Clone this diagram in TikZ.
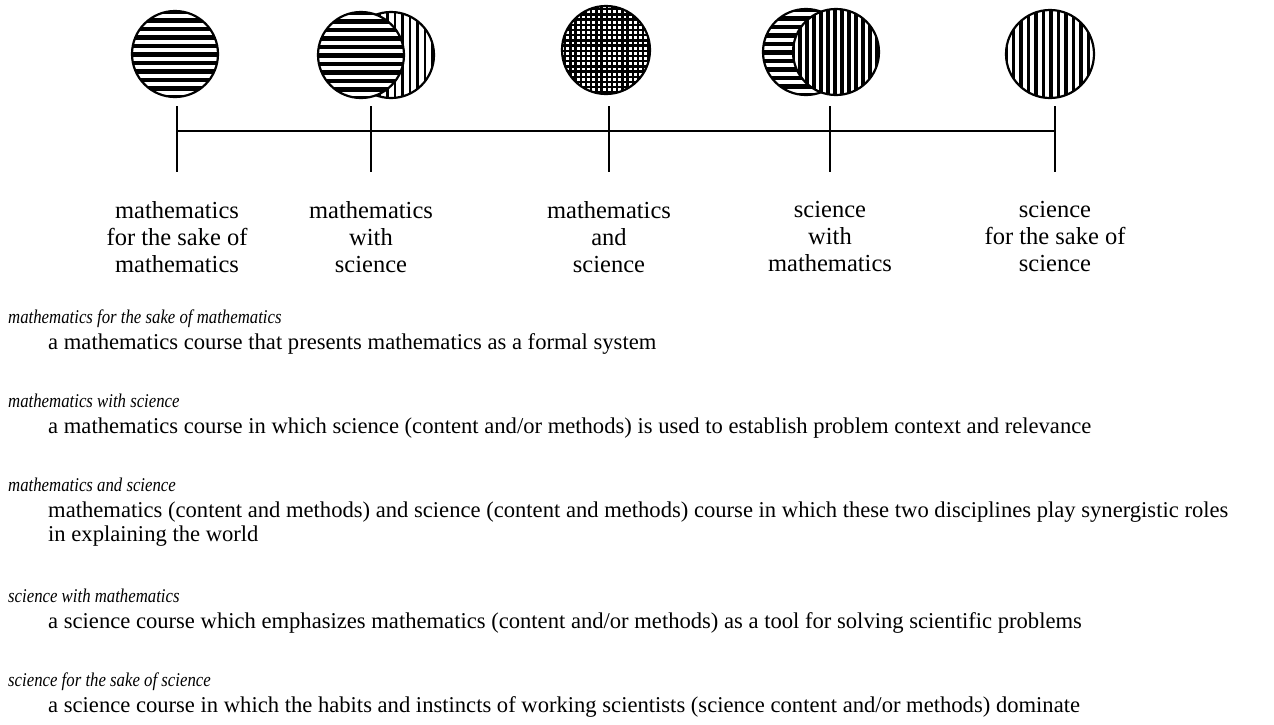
\documentclass[tikz,border=0pt]{standalone}
\usepackage{fontspec}
\setmainfont{Liberation Serif}
\newfontfamily\headfont{Liberation Serif}[FakeStretch=0.86]
\begin{document}
\begin{tikzpicture}[x=1pt,y=-1pt,
    rim/.style={line width=2.2pt},
    lbl/.style={anchor=north,align=center,inner sep=0pt,font=\fontsize{24.5}{27}\selectfont,execute at begin node=\strut},
    head/.style={anchor=base west,inner sep=0pt,font=\headfont\fontsize{19.5}{24}\selectfont\itshape},
    desc/.style={anchor=base west,inner sep=0pt,font=\fontsize{22.6}{24.5}\selectfont}]
    \useasboundingbox[fill=white] (0,0) rectangle (1274,724);
    %% Discs
    % mathematics
    \begin{scope}
        \clip (175,54) circle (43pt);
        \foreach \y in {12,20.5,...,100} \draw[line width=4.5pt] (128,\y) -- (222,\y);
    \end{scope}
    \draw[rim] (175,54) circle (43pt);
    % mathematics with science
    \begin{scope}
        \clip (391,55) circle (43pt);
        \foreach \x in {350,357.5,...,440} \draw[line width=2.6pt] (\x,8) -- (\x,102);
    \end{scope}
    \draw[rim] (391,55) circle (43pt);
    \fill[white] (361,55) circle (43pt);
    \begin{scope}
        \clip (361,55) circle (43pt);
        \foreach \y in {13,21.5,...,100} \draw[line width=4.5pt] (314,\y) -- (408,\y);
    \end{scope}
    \draw[rim] (361,55) circle (43pt);
    % mathematics and science
    \begin{scope}
        \clip (606,50) circle (44pt);
        \foreach \x in {560,565.2,...,655} \draw[line width=2.5pt] (\x,4) -- (\x,96);
        \foreach \y in {4,9.2,...,96} \draw[line width=2.5pt] (560,\y) -- (655,\y);
    \end{scope}
    \draw[rim] (606,50) circle (44pt);
    % science with mathematics
    \begin{scope}
        \clip (806,52) circle (43pt);
        \foreach \y in {10,18.5,...,98} \draw[line width=4.5pt] (760,\y) -- (852,\y);
    \end{scope}
    \draw[rim] (806,52) circle (43pt);
    \fill[white] (836,52) circle (43pt);
    \begin{scope}
        \clip (836,52) circle (43pt);
        \foreach \x in {793,800,...,882} \draw[line width=3.2pt] (\x,6) -- (\x,98);
    \end{scope}
    \draw[rim] (836,52) circle (43pt);
    % science
    \begin{scope}
        \clip (1050,54) circle (44pt);
        \foreach \x in {1006,1013.5,...,1096} \draw[line width=3.6pt] (\x,8) -- (\x,100);
    \end{scope}
    \draw[rim] (1050,54) circle (44pt);
    %% Scale
    \coordinate (t1) at (177,131);
    \coordinate (t2) at (371,131);
    \coordinate (t3) at (609,131);
    \coordinate (t4) at (830,131);
    \coordinate (t5) at (1055,131);
    \draw[line width=1.3pt] (t1) -- (t5);
    \foreach \t in {t1,t2,t3,t4,t5}
        \draw[line width=1.6pt] (\t) ++(0,-25) -- ++(0,66);
    %% Labels
    \node[lbl] (l1) at (177,201) {mathematics\\for the sake of\\mathematics};
    \node[lbl] (l2) at (371,201) {mathematics\\with\\science};
    \node[lbl] (l3) at (609,201) {mathematics\\and\\science};
    \node[lbl] (l4) at (830,201) {science\\with\\mathematics};
    \node[lbl] (l5) at (1055,201) {science\\for the sake of\\science};
    %% Definitions
    \node[head] (h1) at (8,323) {mathematics for the sake of mathematics};
    \node[desc] (d1) at (48,349) {a mathematics course that presents mathematics as a formal system};
    \node[head] (h2) at (8,407) {mathematics with science};
    \node[desc] (d2) at (48,433) {a mathematics course in which science (content and/or methods) is used to establish problem context and relevance};
    \node[head] (h3) at (8,491) {mathematics and science};
    \node[desc] (d3) at (48,517) {mathematics (content and methods) and science (content and methods) course in which these two disciplines play synergistic roles};
    \node[desc] (d3b) at (48,541) {in explaining the world};
    \node[head] (h4) at (8,602) {science with mathematics};
    \node[desc] (d4) at (48,628) {a science course which emphasizes mathematics (content and/or methods) as a tool for solving scientific problems};
    \node[head] (h5) at (8,686) {science for the sake of science};
    \node[desc] (d5) at (48,712) {a science course in which the habits and instincts of working scientists (science content and/or methods) dominate};
\end{tikzpicture}
\end{document}
